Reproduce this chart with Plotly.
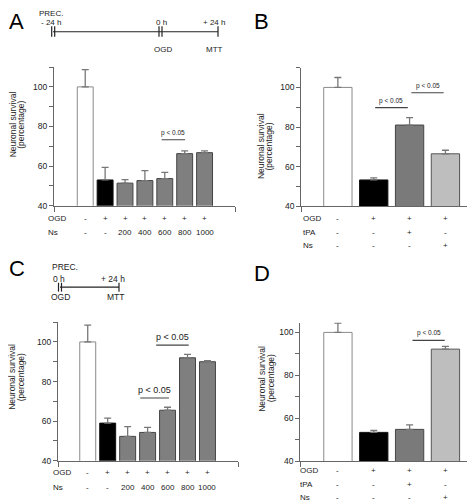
import plotly.graph_objects as go

W, H = 475, 501
FONT = "Liberation Sans, Arial, sans-serif"
AX = "#666666"

# ---------------- data ----------------
a_values = [100, 53.0, 51.4, 52.7, 53.7, 66.3, 66.8]
a_errors = [8.7, 6.4, 1.8, 5.0, 3.1, 1.4, 0.9]
a_ogd = ["-", "+", "+", "+", "+", "+", "+"]
a_ns = ["-", "-", "200", "400", "600", "800", "1000"]

b_values = [100, 53.3, 81.0, 66.5]
b_errors = [5.0, 1.0, 3.8, 1.8]
b_ogd = ["-", "+", "+", "+"]
b_tpa = ["-", "-", "+", "-"]
b_ns = ["-", "-", "-", "+"]

c_values = [100, 59.0, 52.3, 54.3, 65.5, 92.0, 90.0]
c_errors = [8.5, 2.5, 4.9, 2.5, 1.5, 1.7, 0.5]
c_ogd = ["-", "+", "+", "+", "+", "+", "+"]
c_ns = ["-", "-", "200", "400", "600", "800", "1000"]

d_values = [100, 53.4, 54.8, 92.2]
d_errors = [4.3, 0.9, 2.1, 1.3]
d_ogd = ["-", "+", "+", "+"]
d_tpa = ["-", "-", "+", "-"]
d_ns = ["-", "-", "-", "+"]

y_ticks = [40, 60, 80, 100]
y_title = ["Neuronal survival", "(percentage)"]

# ---------------- styles ----------------
WHITE, BLACK, GRAY, DGRAY, LGRAY = "#ffffff", "#000000", "#7f7f7f", "#7a7a7a", "#bebebe"
col7 = [WHITE, BLACK] + [GRAY] * 5
col4 = [WHITE, BLACK, DGRAY, LGRAY]
line7 = ["#8a8a8a", "#111111"] + ["#444444"] * 5
line4 = ["#8a8a8a", "#111111", "#444444", "#555555"]


def px_x(p):
    return p / W


def px_y(p):
    return 1 - p / H


fig = go.Figure()
annotations = []
shapes = []

panels = [
    dict(id="", vals=a_values, errs=a_errors, cols=col7, lines=line7,
         xpx=(46, 227), ypx=(59.7, 199.7), xr=[-1.57, 7.53], yr=[40, 110],
         rows=[("OGD", a_ogd, 212.5), ("Ns", a_ns, 227)], rowx=38, bw=0.8,
         title=(4.5, 13, 118), minor=[50, 70, 90, 110]),
    dict(id="2", vals=b_values, errs=b_errors, cols=col4, lines=line4,
         xpx=(293.3, 474), ypx=(60.2, 200.3), xr=[-1.02, 4.02], yr=[40, 110],
         rows=[("OGD", b_ogd, 213), ("tPA", b_tpa, 226.5), ("Ns", b_ns, 240)], rowx=293, bw=0.79,
         title=(252.5, 261, 140), minor=[50, 70, 90, 110]),
    dict(id="3", vals=c_values, errs=c_errors, cols=col7, lines=line7,
         xpx=(50, 230), ypx=(317.3, 457.3), xr=[-1.49, 7.53], yr=[40, 110],
         rows=[("OGD", c_ogd, 469.5), ("Ns", c_ns, 484)], rowx=43, bw=0.8,
         title=(4.5, 13, 373), minor=[50, 70, 90, 110]),
    dict(id="4", vals=d_values, errs=d_errors, cols=col4, lines=line4,
         xpx=(292.3, 474), ypx=(317.7, 457.7), xr=[-1.05, 4.02], yr=[40, 104.6],
         rows=[("OGD", d_ogd, 467.5), ("tPA", d_tpa, 481), ("Ns", d_ns, 494)], rowx=290, bw=0.79,
         title=(254.5, 263, 374), minor=[50, 70, 90]),
]

layout_axes = {}
for p in panels:
    n = len(p["vals"])
    xa = "x" + p["id"]
    ya = "y" + p["id"]
    fig.add_trace(go.Bar(
        x=list(range(n)), y=p["vals"], width=p["bw"], xaxis=xa, yaxis=ya,
        marker=dict(color=p["cols"], line=dict(color=p["lines"], width=1)),
        error_y=dict(type="data", symmetric=False, array=p["errs"], arrayminus=[0] * n,
                     color="#777777", thickness=1.3, width=3.5),
        hoverinfo="skip",
    ))
    tv = sorted(y_ticks + p["minor"])
    tt = [str(v) if v in y_ticks else "" for v in tv]
    layout_axes["xaxis" + p["id"]] = dict(
        domain=[px_x(p["xpx"][0]), px_x(p["xpx"][1])], range=p["xr"], anchor=ya,
        showline=True, linecolor=AX, linewidth=1.2, showgrid=False, zeroline=False,
        tickvals=p["xr"], ticktext=["", ""], ticks="outside", ticklen=5,
        tickcolor=AX, tickwidth=1.2, fixedrange=True,
    )
    layout_axes["yaxis" + p["id"]] = dict(
        domain=[px_y(p["ypx"][1]), px_y(p["ypx"][0])], range=p["yr"], anchor=xa,
        showline=True, linecolor=AX, linewidth=1.2, showgrid=False, zeroline=False,
        tickvals=tv, ticktext=tt, ticks="outside", ticklen=4, tickcolor=AX, tickwidth=1.2,
        tickfont=dict(size=8.5, color="#222222", family=FONT), fixedrange=True,
    )
    for label, vals, ypix in p["rows"]:
        annotations.append(dict(xref="paper", yref="paper", x=px_x(p["rowx"]), y=px_y(ypix),
                                text=label, showarrow=False, xanchor="left", yanchor="middle",
                                font=dict(size=8, family=FONT, color="#222222")))
        for i, v in enumerate(vals):
            annotations.append(dict(xref=xa, yref="paper", x=i, y=px_y(ypix), text=v,
                                    showarrow=False, xanchor="center", yanchor="middle",
                                    font=dict(size=8, family=FONT, color="#222222")))
    tx1, tx2, tyc = p["title"]
    for t, tx in zip(y_title, (tx1, tx2)):
        annotations.append(dict(xref="paper", yref="paper", x=px_x(tx), y=px_y(tyc), text=t,
                                textangle=-90, showarrow=False, xanchor="center", yanchor="middle",
                                font=dict(size=8.5, family=FONT, color="#222222")))

# significance bars (x in category units, y in data units)
sigs = [
    ("", 3.84, 5.02, 73.3, 6.5),
    ("2", 1.04, 1.95, 89.8, 6.5),
    ("2", 2.05, 2.95, 97.3, 6.5),
    ("3", 2.63, 4.07, 71.7, 9),
    ("3", 3.43, 5.06, 98.4, 9),
    ("4", 2.08, 2.98, 96.3, 6.5),
]
for pid, x0, x1, yv, fs in sigs:
    shapes.append(dict(type="line", xref="x" + pid, yref="y" + pid, x0=x0, x1=x1, y0=yv, y1=yv,
                       line=dict(color="#444444", width=1.1)))
    annotations.append(dict(xref="x" + pid, yref="y" + pid, x=(x0 + x1) / 2, y=yv, text="p &lt; 0.05",
                            showarrow=False, xanchor="center", yanchor="bottom", yshift=1,
                            font=dict(size=fs, family=FONT, color="#222222")))

# panel letters
for letter, lx, ly in [("A", 8, 14), ("B", 253, 14), ("C", 9, 263), ("D", 254, 268)]:
    annotations.append(dict(xref="paper", yref="paper", x=px_x(lx), y=px_y(ly), text=letter,
                            showarrow=False, xanchor="center", yanchor="middle",
                            font=dict(size=22, family=FONT, color="#000000")))

# timelines
TL = "#222222"


def seg(x0, y0, x1, y1):
    shapes.append(dict(type="line", xref="paper", yref="paper", x0=px_x(x0), x1=px_x(x1),
                       y0=px_y(y0), y1=px_y(y1), line=dict(color=TL, width=1.2)))


def txt(s, x, y, anchor="center", size=8):
    annotations.append(dict(xref="paper", yref="paper", x=px_x(x), y=px_y(y), text=s,
                            showarrow=False, xanchor=anchor, yanchor="middle",
                            font=dict(size=size, family=FONT, color="#222222")))


# timeline A
seg(45, 24, 210, 24)
for xx in (43.7, 46.7, 151, 154):
    seg(xx, 18.5, xx, 29)
seg(210, 18.5, 210, 29)
txt("PREC.", 42.5, 6)
txt("- 24 h", 42.5, 15)
txt("0 h", 153, 15)
txt("+ 24 h", 205.5, 15)
txt("OGD", 155, 42)
txt("MTT", 206, 42)

# timeline C
seg(52, 282, 111, 282)
for xx in (50.5, 53.5):
    seg(xx, 277.5, xx, 286.5)
seg(111, 277.5, 111, 286.5)
txt("PREC.", 42, 261.5, "left", 8.5)
txt("0 h", 43, 273.5, "left", 8.5)
txt("+ 24 h", 105, 273.5, "center", 8.5)
txt("OGD", 52, 292, "center", 8.5)
txt("MTT", 107, 292, "center", 8.5)

fig.update_layout(
    width=W, height=H, margin=dict(l=0, r=0, t=0, b=0),
    paper_bgcolor="white", plot_bgcolor="white", showlegend=False,
    annotations=annotations, shapes=shapes, bargap=0.2,
    **layout_axes,
)

fig.write_html("out.html", config={"displayModeBar": False})
